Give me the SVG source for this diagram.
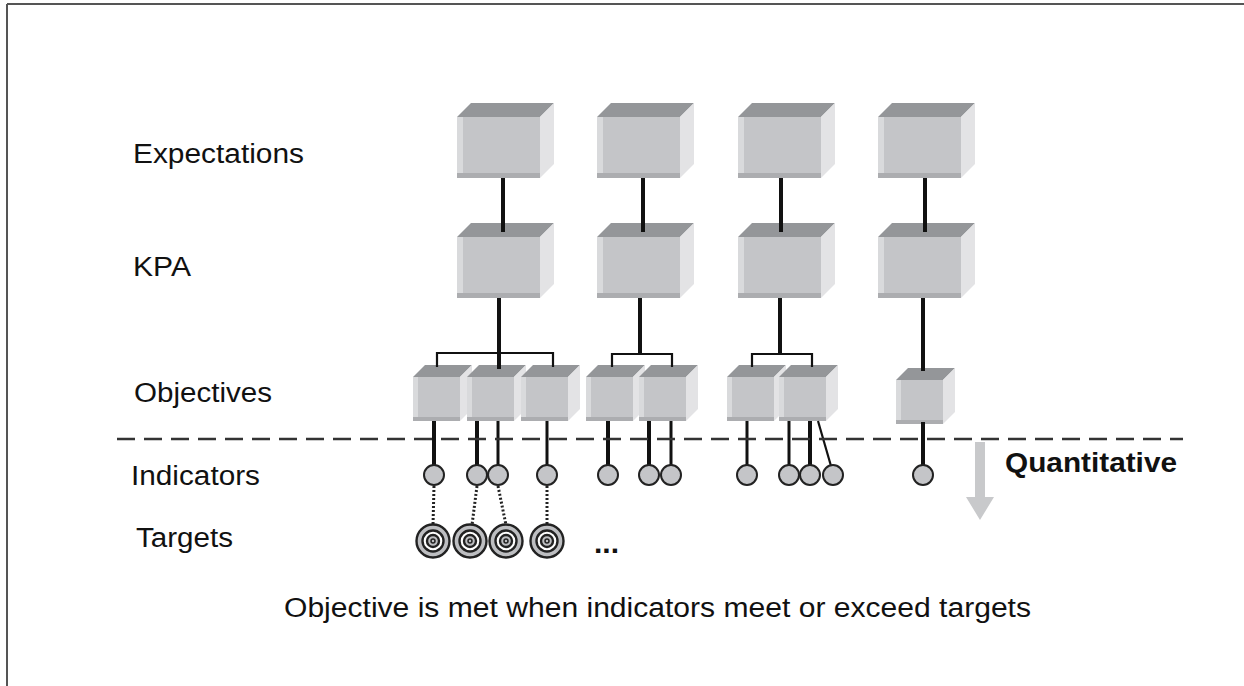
<svg xmlns="http://www.w3.org/2000/svg" width="1244" height="686" viewBox="0 0 1244 686">
<defs>
<style>
.lbl{font-family:"Liberation Sans",Arial,sans-serif;font-size:27px;fill:#111}
.bold{font-weight:bold}
.ln{stroke:#111;fill:none;stroke-linecap:butt}
.thick{stroke-width:4}
.mid{stroke-width:3}
.thin{stroke-width:2.2}
.dot{stroke:#222;stroke-width:3;stroke-dasharray:2 2;fill:none}
.ind{fill:#c4c5c8;stroke:#222;stroke-width:2}
.tgtG{fill:#bdbec1;stroke:#222;stroke-width:2.4}
.tgtW{fill:#fff;stroke:#222;stroke-width:2.4}
</style>
<g id="bigbox">
<polygon points="0,0 14,-14 97,-14 83,0" fill="#949699"/>
<polygon points="83,0 97,-14 97,47 83,61" fill="#e3e3e5"/>
<rect x="0" y="0" width="83" height="61" fill="#c4c5c8"/>
<rect x="0" y="0" width="6" height="61" fill="#d9dadc"/>
<rect x="0" y="56" width="83" height="5" fill="#acadb0"/>
</g>
<g id="smallbox">
<polygon points="0,0 12,-12 59,-12 47,0" fill="#949699"/>
<polygon points="47,0 59,-12 59,32 47,44" fill="#e3e3e5"/>
<rect x="0" y="0" width="47" height="44" fill="#c4c5c8"/>
<rect x="0" y="0" width="5" height="44" fill="#d9dadc"/>
<rect x="0" y="40" width="47" height="4" fill="#acadb0"/>
</g>
<g id="target">
<circle r="16.5" class="tgtG"/>
<circle r="10.5" class="tgtW"/>
<circle r="6" class="tgtG"/>
<circle r="2" fill="#bdbec1" stroke="#222" stroke-width="1.5"/>
</g>
</defs>
<rect width="1244" height="686" fill="#fff"/>
<g id="frame" stroke="#555" stroke-width="2" fill="none">
<line x1="7" y1="4" x2="1244" y2="4"/>
<line x1="7" y1="4" x2="7" y2="686"/>
</g>
<g id="labels">
<text class="lbl" x="133" y="163" textLength="171" lengthAdjust="spacingAndGlyphs">Expectations</text>
<text class="lbl" x="133" y="276" textLength="58" lengthAdjust="spacingAndGlyphs">KPA</text>
<text class="lbl" x="134" y="402" textLength="138" lengthAdjust="spacingAndGlyphs">Objectives</text>
<text class="lbl" x="131" y="485" textLength="129" lengthAdjust="spacingAndGlyphs">Indicators</text>
<text class="lbl" x="136" y="547" textLength="97" lengthAdjust="spacingAndGlyphs">Targets</text>
<text class="lbl" x="284" y="617" textLength="747" lengthAdjust="spacingAndGlyphs">Objective is met when indicators meet or exceed targets</text>
</g>
<g id="expectations">
<use href="#bigbox" x="457" y="117"/>
<use href="#bigbox" x="597" y="117"/>
<use href="#bigbox" x="738" y="117"/>
<use href="#bigbox" x="878" y="117"/>
</g>
<g id="kpa">
<use href="#bigbox" x="457" y="237"/>
<use href="#bigbox" x="597" y="237"/>
<use href="#bigbox" x="738" y="237"/>
<use href="#bigbox" x="878" y="237"/>
</g>
<g id="objectives">
<use href="#smallbox" x="413" y="377"/>
<use href="#smallbox" x="467" y="377"/>
<use href="#smallbox" x="521" y="377"/>
<use href="#smallbox" x="586" y="377"/>
<use href="#smallbox" x="639" y="377"/>
<use href="#smallbox" x="727" y="377"/>
<use href="#smallbox" x="779" y="377"/>
<use href="#smallbox" x="896" y="380"/>
</g>
<g id="connectors">
<line class="ln thick" x1="503" y1="178" x2="503" y2="232"/>
<line class="ln thick" x1="643" y1="178" x2="643" y2="232"/>
<line class="ln thick" x1="781" y1="178" x2="781" y2="232"/>
<line class="ln thick" x1="925" y1="178" x2="925" y2="232"/>
<line class="ln thick" x1="499" y1="298" x2="499" y2="369"/>
<line class="ln thick" x1="640" y1="298" x2="640" y2="354"/>
<line class="ln thick" x1="780" y1="298" x2="780" y2="354"/>
<line class="ln thick" x1="923" y1="298" x2="923" y2="371"/>
<path class="ln thin" d="M437,367 V353 H553 V367"/>
<path class="ln thin" d="M612,367 V354 H672 V367"/>
<path class="ln thin" d="M752,367 V354 H812 V367"/>
<line class="ln thick" x1="434" y1="421" x2="434" y2="466"/>
<line class="ln thick" x1="477" y1="421" x2="477" y2="466"/>
<line class="ln mid" x1="498" y1="421" x2="498" y2="466"/>
<line class="ln mid" x1="547" y1="421" x2="547" y2="466"/>
<line class="ln thick" x1="608" y1="421" x2="608" y2="466"/>
<line class="ln thick" x1="649" y1="421" x2="649" y2="466"/>
<line class="ln mid" x1="671" y1="421" x2="671" y2="466"/>
<line class="ln mid" x1="747" y1="421" x2="747" y2="466"/>
<line class="ln mid" x1="789" y1="421" x2="789" y2="466"/>
<line class="ln thick" x1="810" y1="421" x2="810" y2="466"/>
<line class="ln thin" x1="818" y1="421" x2="831" y2="466"/>
<line class="ln thick" x1="923" y1="422" x2="923" y2="466"/>
<line class="dot" x1="434" y1="486" x2="433" y2="525"/>
<line class="dot" x1="477" y1="486" x2="472" y2="525"/>
<line class="dot" x1="498" y1="486" x2="506" y2="525"/>
<line class="dot" x1="547" y1="486" x2="547" y2="525"/>
</g>
<g id="divider">
<line x1="117" y1="439" x2="1183" y2="439" stroke="#333" stroke-width="2.5" stroke-dasharray="18 9"/>
</g>
<g id="indicators">
<circle class="ind" cx="434" cy="475" r="10"/>
<circle class="ind" cx="477" cy="475" r="10"/>
<circle class="ind" cx="498" cy="475" r="10"/>
<circle class="ind" cx="547" cy="475" r="10"/>
<circle class="ind" cx="608" cy="475" r="10"/>
<circle class="ind" cx="649" cy="475" r="10"/>
<circle class="ind" cx="671" cy="475" r="10"/>
<circle class="ind" cx="747" cy="475" r="10"/>
<circle class="ind" cx="789" cy="475" r="10"/>
<circle class="ind" cx="810" cy="475" r="10"/>
<circle class="ind" cx="833" cy="475" r="10"/>
<circle class="ind" cx="923" cy="475" r="10"/>
</g>
<g id="targets">
<use href="#target" x="433" y="541"/>
<use href="#target" x="470" y="541"/>
<use href="#target" x="506" y="541"/>
<use href="#target" x="547" y="541"/>
<text class="lbl bold" x="594" y="553" style="font-size:30px">...</text>
</g>
<g id="quantitative">
<polygon points="975,442 985,442 985,497 994,497 980,520 966,497 975,497" fill="#c8c9cb"/>
<text class="lbl bold" x="1005" y="472" textLength="172" lengthAdjust="spacingAndGlyphs">Quantitative</text>
</g>
</svg>
